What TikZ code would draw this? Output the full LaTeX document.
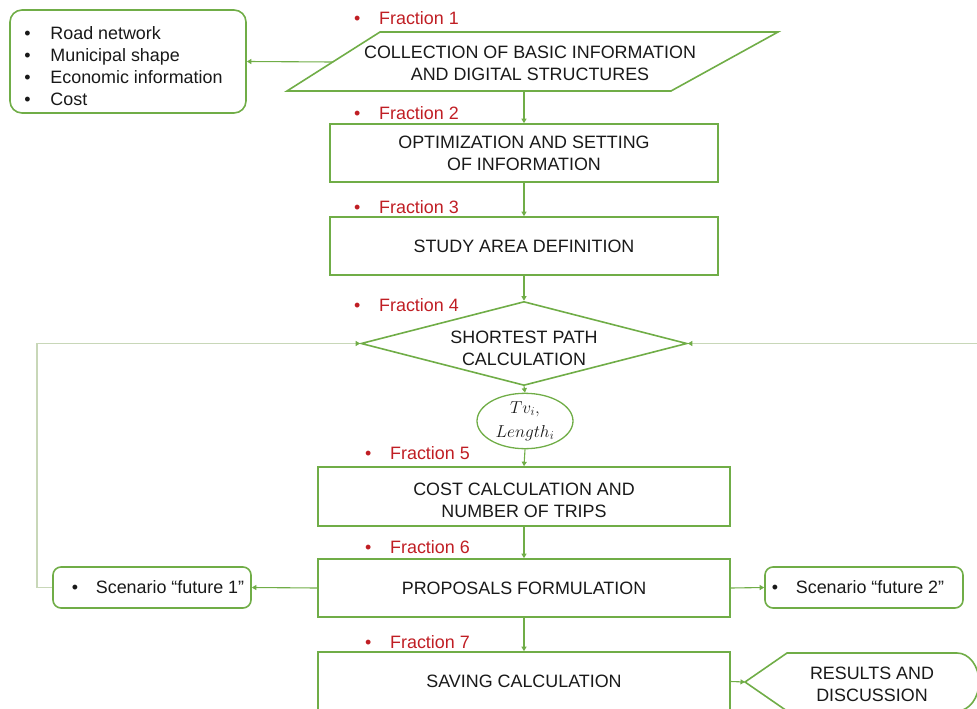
\documentclass[tikz,border=0pt]{standalone}
\usepackage{fontspec}
\setmainfont{Liberation Sans}
\usetikzlibrary{shapes.geometric,arrows.meta}
\definecolor{flowgreen}{RGB}{112,173,71}
\definecolor{fbgreen}{RGB}{200,215,184}
\definecolor{fracred}{RGB}{192,30,36}
\definecolor{ink}{RGB}{25,25,25}

\begin{document}
\begin{tikzpicture}[x=1pt,y=-1pt,
  font=\fontsize{17.9}{21.8}\selectfont, text=ink,
  stepbox/.style={draw=flowgreen,line width=1.6pt,rectangle,align=center,inner sep=0pt},
  listbox/.style={draw=flowgreen,line width=1.6pt,rounded corners=12pt,align=left,inner sep=0pt},
  flow/.style={draw=flowgreen,line width=1.1pt,-{Triangle[width=5pt,length=4.5pt]}},
  feedback/.style={draw=fbgreen,line width=1.3pt,-{Triangle[width=5pt,length=4.5pt,color=flowgreen]}},
  fraclabel/.style={anchor=west,inner sep=0pt,text=fracred},
  plain/.style={align=center,inner sep=0pt},
]
\useasboundingbox (0,0) rectangle (977,709);
\clip (0,0) rectangle (977,709);

% ---- fraction labels ----
\node[fraclabel] (f1) at (354,18)  {\makebox[25pt][l]{\textbullet}Fraction 1};
\node[fraclabel] (f2) at (354,113) {\makebox[25pt][l]{\textbullet}Fraction 2};
\node[fraclabel] (f3) at (354,207) {\makebox[25pt][l]{\textbullet}Fraction 3};
\node[fraclabel] (f4) at (354,305) {\makebox[25pt][l]{\textbullet}Fraction 4};
\node[fraclabel] (f5) at (365,453) {\makebox[25pt][l]{\textbullet}Fraction 5};
\node[fraclabel] (f6) at (365,547) {\makebox[25pt][l]{\textbullet}Fraction 6};
\node[fraclabel] (f7) at (365,642) {\makebox[25pt][l]{\textbullet}Fraction 7};

% ---- input data list ----
\node[listbox,minimum width=236pt,minimum height=103pt,
      label={[plain,align=left,xshift=-4.5pt,yshift=-4.5pt]center:%
        \makebox[26pt][l]{\textbullet}Road network\\
        \makebox[26pt][l]{\textbullet}Municipal shape\\
        \makebox[26pt][l]{\textbullet}Economic information\\
        \makebox[26pt][l]{\textbullet}Cost}] (info) at (128,61.5) {};

% ---- data collection (parallelogram) ----
\coordinate (pTL) at (380,32);
\coordinate (pTR) at (778,32);
\coordinate (pBR) at (671,91);
\coordinate (pBL) at (287,91);
\draw[flowgreen,line width=1.6pt] (pTL) -- (pTR) -- (pBR) -- (pBL) -- cycle;
\node[plain] (collect) at (530,63) {COLLECTION OF BASIC INFORMATION\\AND DIGITAL STRUCTURES};
\coordinate (collectW) at (333,62);
\coordinate (collectS) at (524,91);

% ---- process steps ----
\node[stepbox,minimum width=388pt,minimum height=58pt] (optim) at (524,153)
  {OPTIMIZATION AND SETTING\\OF INFORMATION};
\node[stepbox,minimum width=388pt,minimum height=58pt] (area) at (524,246)
  {STUDY AREA DEFINITION};
\node[diamond,draw=flowgreen,line width=1.6pt,minimum width=326pt,minimum height=84pt,
      aspect=3.9,inner sep=0pt,
      label={[plain,yshift=-5pt]center:SHORTEST PATH\\CALCULATION}] (spath) at (524,343.5) {};
\node[ellipse,draw=flowgreen,line width=1.3pt,minimum width=96pt,minimum height=50pt,
      plain,font=\fontsize{17.5}{24}\selectfont] (tv) at (525,421) {$Tv_i,$\\$Length_i$};
\node[stepbox,minimum width=412pt,minimum height=59pt,
      label={[plain,yshift=-3.5pt]center:COST CALCULATION AND\\NUMBER OF TRIPS}] (cost) at (524,496.5) {};
\node[stepbox,minimum width=412pt,minimum height=58pt] (prop) at (524,588)
  {PROPOSALS FORMULATION};
\node[stepbox,minimum width=412pt,minimum height=59pt] (saving) at (524,681.5)
  {SAVING CALCULATION};

% ---- scenarios ----
\node[listbox,rounded corners=8pt,minimum width=198pt,minimum height=41pt] (scen1) at (152,587.5)
  {\hspace*{12pt}\makebox[24pt][l]{\textbullet}Scenario “future 1”};
\node[listbox,rounded corners=8pt,minimum width=198pt,minimum height=41pt] (scen2) at (864,587.5)
  {\makebox[24pt][l]{\textbullet}Scenario “future 2”\hspace*{12pt}};

% ---- results (display shape) ----
\draw[flowgreen,line width=1.6pt] (745,682) -- (787,653) -- (957,653)
  arc[start angle=-90,end angle=90,x radius=22,y radius=29] -- (787,711) -- cycle;
\node[plain] (results) at (872,684) {RESULTS AND\\DISCUSSION};
\coordinate (resultsW) at (745,682);

% ---- connectors ----
\draw[flow] (collectW) -- (info.east);
\draw[flow] (collectS) -- (optim.north);
\draw[flow] (optim.south) -- (area.north);
\draw[flow] (area.south) -- (spath.north);
\draw[flow] (spath.south) -- (tv.north);
\draw[flow] (tv.south) -- (cost.north);
\draw[flow] (cost.south) -- (prop.north);
\draw[flow] (prop.south) -- (saving.north);
\draw[flow] (prop.west) -- (scen1.east);
\draw[flow] (prop.east) -- (scen2.west);
\draw[flow] (saving.east) -- (resultsW);

% ---- feedback loops ----
\coordinate (fbL) at (37,343.5);
\coordinate (fbR) at (977,343.5);
\draw[feedback] (scen1.west) -| (fbL) -- (spath.west);
\draw[feedback] (fbR) -- (spath.east);
\end{tikzpicture}
\end{document}
